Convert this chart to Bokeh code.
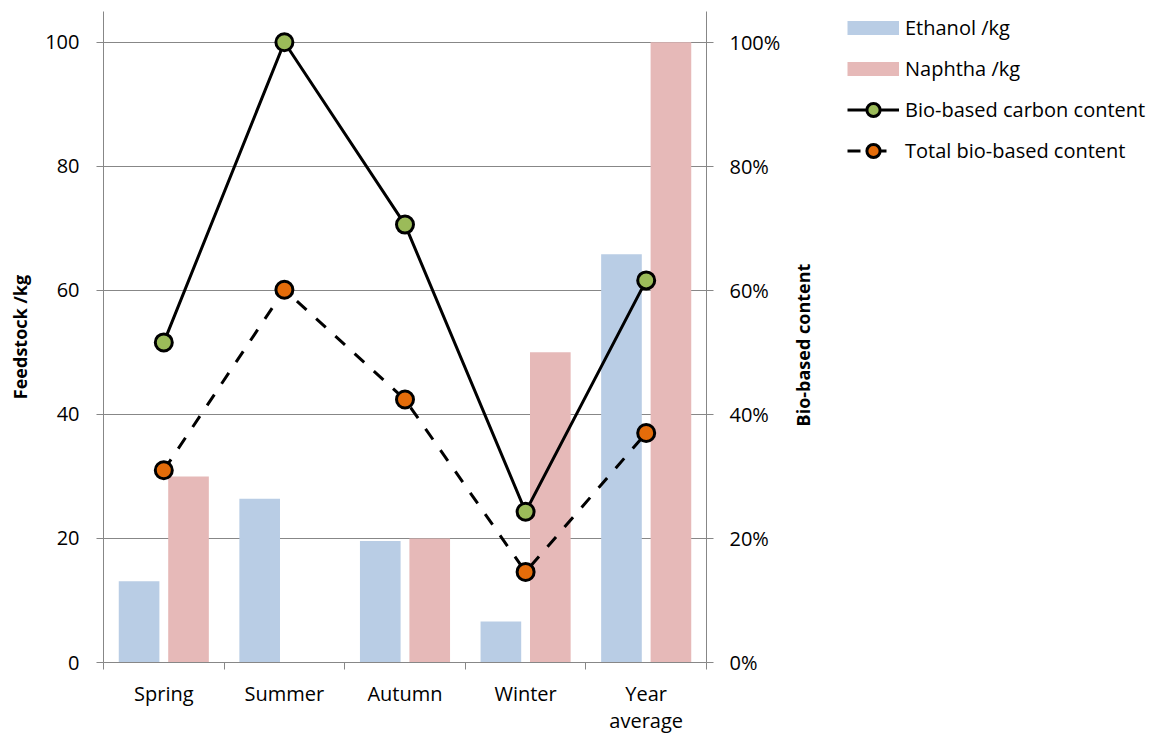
import math
from bokeh.plotting import figure
from bokeh.layouts import row
from bokeh.models import (Range1d, LinearAxis, FixedTicker, NumeralTickFormatter,
                          Legend, LegendItem)
from bokeh.embed import file_html
from bokeh.resources import INLINE

# ---- data ----
categories = ["Spring", "Summer", "Autumn", "Winter", "Year\naverage"]
ethanol = [13.1, 26.4, 19.6, 6.6, 65.8]
naphtha = [30.0, 0.0, 20.0, 50.0, 100.0]
bio_carbon = [0.516, 1.0, 0.706, 0.243, 0.616]
total_bio = [0.310, 0.601, 0.424, 0.146, 0.370]
left_ticks = [0, 20, 40, 60, 80, 100]
right_ticks = [0, 0.2, 0.4, 0.6, 0.8, 1.0]
right_title = "Bio-based content"
series_names = ["Ethanol /kg", "Naphtha /kg", "Bio-based carbon content", "Total bio-based content"]

FONT = "Open Sans"
GREY = "#878787"
C_ETH = "#B9CDE5"
C_NAP = "#E6B9B8"
C_GREEN = "#9BBB59"
C_ORANGE = "#E46C0A"
DASH = "13 13"

n = len(categories)
centers = [i + 0.5 for i in range(n)]
off = 0.205
bw = 0.337

p = figure(frame_width=603, frame_height=651, x_range=Range1d(0, n), y_range=Range1d(0, 104.95),
           output_backend="svg", toolbar_location=None,
           min_border_left=103, min_border_right=0, min_border_top=9, min_border_bottom=0)
p.extra_y_ranges = {"pct": Range1d(0, 1.0495)}
p.outline_line_color = None
p.background_fill_color = "white"

# grid
p.xgrid.visible = False
p.ygrid.ticker = FixedTicker(ticks=left_ticks)
p.ygrid.grid_line_color = GREY
p.ygrid.grid_line_width = 1

# x axis
xa = p.xaxis[0]
xa.ticker = FixedTicker(ticks=centers, minor_ticks=list(range(n + 1)))
xa.major_label_overrides = {c: lab for c, lab in zip(centers, categories)}
xa.major_tick_out = 0
xa.major_tick_in = 0
xa.minor_tick_out = 7
xa.minor_tick_in = 0
xa.minor_tick_line_color = GREY
xa.axis_line_color = GREY
xa.major_label_standoff = 10
xa.major_label_text_font = FONT
xa.major_label_text_font_size = "20px"
xa.major_label_text_line_height = 1.0
xa.major_label_text_color = "black"

# left axis
ya = p.yaxis[0]
ya.ticker = FixedTicker(ticks=left_ticks)
ya.axis_line_color = GREY
ya.major_tick_line_color = GREY
ya.major_tick_out = 7
ya.major_tick_in = 0
ya.minor_tick_line_color = None
ya.major_label_standoff = 17
ya.major_label_text_font = FONT
ya.major_label_text_font_size = "20px"
ya.major_label_text_color = "black"
ya.axis_label = "Feedstock /kg"
ya.axis_label_text_font = FONT
ya.axis_label_text_font_size = "18px"
ya.axis_label_text_font_style = "bold"
ya.axis_label_text_color = "black"
ya.axis_label_standoff = 10

# right axis (ticks)
ra = LinearAxis(y_range_name="pct", ticker=FixedTicker(ticks=right_ticks),
                formatter=NumeralTickFormatter(format="0%"))
ra.axis_line_color = GREY
ra.major_tick_line_color = GREY
ra.major_tick_out = 7
ra.major_tick_in = 0
ra.minor_tick_line_color = None
ra.major_label_standoff = 16
ra.major_label_text_font = FONT
ra.major_label_text_font_size = "20px"
ra.major_label_text_color = "black"
p.add_layout(ra, "right")

# right axis title, written bottom-to-top
title_start = 0.3806
rt = LinearAxis(y_range_name="pct", ticker=FixedTicker(ticks=[title_start]))
rt.major_label_overrides = {title_start: right_title}
rt.major_label_orientation = math.pi / 2
rt.axis_line_color = None
rt.major_tick_line_color = None
rt.minor_tick_line_color = None
rt.major_tick_out = 0
rt.major_tick_in = 0
rt.major_label_standoff = 20
rt.major_label_text_font = FONT
rt.major_label_text_font_size = "18px"
rt.major_label_text_font_style = "bold"
rt.major_label_text_color = "black"
p.add_layout(rt, "right")

# bars
p.vbar(x=[c - off for c in centers], top=ethanol, width=bw, bottom=0,
       fill_color=C_ETH, line_color=None)
p.vbar(x=[c + off for c in centers], top=naphtha, width=bw, bottom=0,
       fill_color=C_NAP, line_color=None)

# lines
p.line(centers, bio_carbon, y_range_name="pct", line_color="black", line_width=3)
p.scatter(centers, bio_carbon, y_range_name="pct", size=17, fill_color=C_GREEN,
          line_color="black", line_width=3)
p.line(centers, total_bio, y_range_name="pct", line_color="black", line_width=3,
       line_dash=DASH)
p.scatter(centers, total_bio, y_range_name="pct", size=17, fill_color=C_ORANGE,
          line_color="black", line_width=3)

# ---- legend, in its own small figure to the right ----
lf = figure(width=327, height=320, x_range=Range1d(0, 1), y_range=Range1d(0, 1),
            output_backend="svg", toolbar_location=None,
            x_axis_location=None, y_axis_location=None,
            min_border_left=17, min_border_right=0, min_border_top=11, min_border_bottom=0)
lf.outline_line_color = None
lf.xgrid.visible = False
lf.ygrid.visible = False
nan = float("nan")
e_proxy = lf.line([nan], [nan], line_color=C_ETH, line_width=14)
n_proxy = lf.line([nan], [nan], line_color=C_NAP, line_width=14)
g_line = lf.line([nan], [nan], line_color="black", line_width=3)
g_mark = lf.scatter([nan], [nan], size=17, fill_color=C_GREEN, line_color="black", line_width=3)
o_line = lf.line([nan], [nan], line_color="black", line_width=3, line_dash=DASH)
o_mark = lf.scatter([nan], [nan], size=17, fill_color=C_ORANGE, line_color="black", line_width=3)

legend = Legend(items=[
    LegendItem(label=series_names[0], renderers=[e_proxy]),
    LegendItem(label=series_names[1], renderers=[n_proxy]),
    LegendItem(label=series_names[2], renderers=[g_line, g_mark]),
    LegendItem(label=series_names[3], renderers=[o_line, o_mark]),
], location="top_left")
legend.glyph_width = 52
legend.glyph_height = 33
legend.label_standoff = 6
legend.spacing = 8
legend.padding = 0
legend.margin = 0
legend.border_line_color = None
legend.background_fill_alpha = 0
legend.label_text_font = FONT
legend.label_text_font_size = "20px"
legend.label_text_color = "black"
lf.add_layout(legend, "center")

layout = row(p, lf)
open("out.html", "w").write(file_html(layout, INLINE))
